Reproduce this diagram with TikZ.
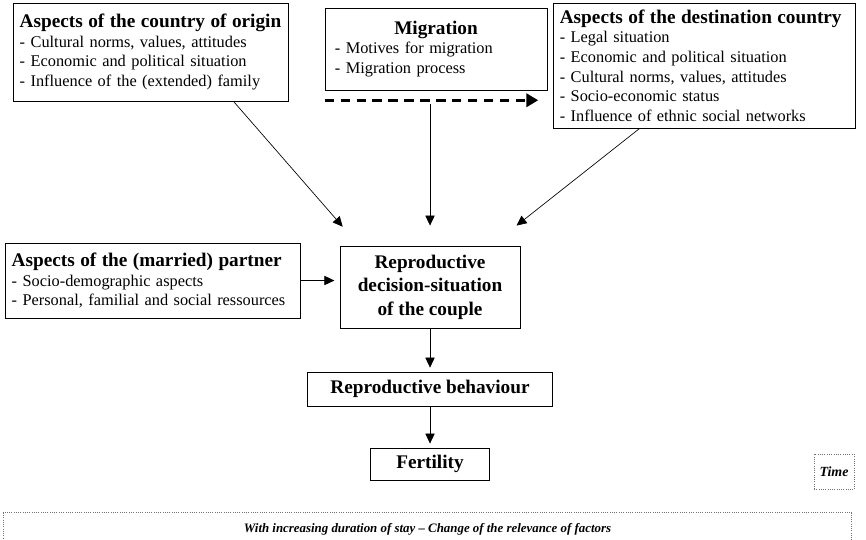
\documentclass[tikz,border=0pt]{standalone}
\usepackage{fontspec}
\setmainfont{Liberation Serif}
\usepackage{tikz}
\usetikzlibrary{shapes.geometric, arrows.meta}
\tikzstyle{aspects} = [rectangle, draw=black, line width=0.6pt, align=left, inner xsep=0.18cm, inner ysep=0pt, font=\fontsize{12.3}{14.8}\selectfont]
\tikzstyle{stage} = [rectangle, draw=black, line width=0.6pt, align=center, inner ysep=0pt, font=\fontsize{14.5}{17.6}\selectfont\bfseries]
\tikzstyle{note} = [rectangle, draw=black!55, densely dotted, line width=0.7pt, align=center, inner sep=0pt, font=\fontsize{10.5}{12}\selectfont\bfseries\itshape]
\tikzstyle{arrow} = [->, >={Triangle[length=7.5pt, width=7pt]}, line width=0.5pt]
\tikzstyle{migrate} = [->, >={Triangle[length=9pt, width=10pt]}, line width=2.2pt, dash pattern=on 7pt off 5pt]
\newcommand{\heading}[1]{{\fontsize{14.5}{15}\selectfont\bfseries #1}}

\begin{document}
\begin{tikzpicture}[node distance=2cm]
		\useasboundingbox (0,0) rectangle (22.914,-14.262);
		\node (origin) [aspects, text width=6.92cm, minimum height=2.59cm] at (3.982,-1.376) {\heading{Aspects of the country of origin}\\ - Cultural norms, values, attitudes\\ - Economic and political situation\\ - Influence of the (extended) family};
		\node (migration) [aspects, text width=5.35cm, inner xsep=0.26cm, minimum height=2.17cm, right of=origin, xshift=5.554cm, yshift=0.079cm] {\hfill\heading{Migration}\hfill\null\\ - Motives for migration\\ - Migration process};
		\node (destination) [aspects, text width=7.63cm, minimum height=3.31cm, right of=migration, xshift=5.092cm, yshift=-0.436cm] {\heading{Aspects of the destination country}\\ - Legal situation\\ - Economic and political situation\\ - Cultural norms, values, attitudes\\ - Socio-economic status\\ - Influence of ethnic social networks};
		\node (partner) [aspects, text width=7.45cm, minimum height=1.98cm, below of=origin, xshift=0.053cm, yshift=-4.046cm] {\heading{Aspects of the (married) partner}\\ - Socio-demographic aspects\\ - Personal, familial and social ressources};
		\node (repro) [stage, minimum width=4.76cm, minimum height=2.17cm, right of=partner, xshift=5.343cm, yshift=-0.172cm] {Reproductive\\ decision-situation\\ of the couple};
		\node (behaviour) [stage, minimum width=6.48cm, minimum height=0.9cm, below of=repro, yshift=-0.699cm] {Reproductive behaviour};
		\node (fertility) [stage, minimum width=3.15cm, minimum height=0.85cm, below of=behaviour, yshift=0.016cm] {Fertility};
		\node (time) [note, minimum width=1.06cm, minimum height=0.93cm, right of=fertility, xshift=8.69cm, yshift=-0.212cm] {Time};
		\node (stay) [note, font=\fontsize{9.7}{12}\selectfont\bfseries\itshape, minimum width=22.46cm, minimum height=0.85cm, below of=fertility, xshift=-0.066cm, yshift=0.28cm] {With increasing duration of stay -- Change of the relevance of factors};
		\draw [migrate] ([yshift=-0.26cm]migration.south west) -- ([xshift=-0.24cm, yshift=-0.26cm]migration.south east);
		\draw [arrow] ([xshift=-1.455cm]origin.south east) -- ([xshift=0.08cm, yshift=0.5cm]repro.north west);
		\draw [arrow] ([yshift=3.757cm]repro.north) -- ([yshift=0.53cm]repro.north);
		\draw [arrow] ([xshift=2.3cm]destination.south west) -- ([xshift=-0.1cm, yshift=0.53cm]repro.north east);
		\draw [arrow, shorten >=4pt] (partner.east) -- (partner.east -| repro.west);
		\draw [arrow, shorten >=3pt] (repro) -- (behaviour);
		\draw [arrow, shorten >=3pt] (behaviour) -- (fertility);
	\end{tikzpicture}
\end{document}
